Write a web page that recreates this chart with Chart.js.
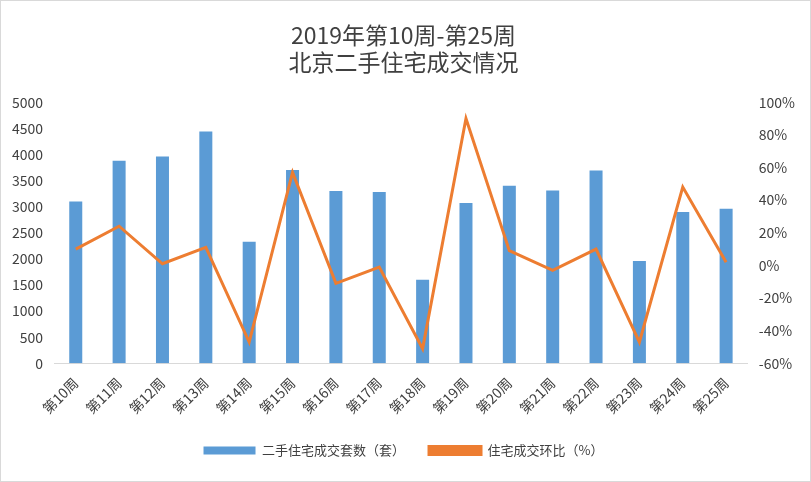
<!DOCTYPE html>
<html><head><meta charset="utf-8">
<script src="https://cdn.jsdelivr.net/npm/chart.js@4"></script>
<style>html,body{margin:0;padding:0;background:#fff}
#w{position:absolute;left:0;top:0;width:809px;height:480px;border:1px solid #d9d9d9}</style>
</head><body><div id="w"><canvas id="c"></canvas></div>
<script>
const categories=["第10周","第11周","第12周","第13周","第14周","第15周","第16周","第17周","第18周","第19周","第20周","第21周","第22周","第23周","第24周","第25周"];
const sales=[3100,3880,3960,4440,2330,3700,3300,3280,1600,3070,3400,3310,3690,1960,2900,2960];
const ratio=[10,24,1,11,-47,57,-11,-1,-51,90,9,-3,10,-47,48,2];
const F='"Noto Sans CJK SC","Noto Sans",sans-serif';
new Chart(document.getElementById('c'),{
data:{labels:categories,datasets:[
{type:'line',label:'住宅成交环比（%）',data:ratio,yAxisID:'y1',borderColor:'#ED7D31',backgroundColor:'#ED7D31',borderWidth:3,pointRadius:0,tension:0,order:0},
{type:'bar',label:'二手住宅成交套数（套）',data:sales,yAxisID:'y',backgroundColor:'#5B9BD5',categoryPercentage:0.6,barPercentage:0.5,order:1}
]},
options:{responsive:true,maintainAspectRatio:false,animation:false,
layout:{padding:{left:8,right:12,top:14,bottom:14}},
plugins:{title:{display:true,text:['2019年第10周-第25周','北京二手住宅成交情况'],font:{family:F,size:23,weight:'normal'},color:'#404040',padding:{top:6,bottom:26},lineHeight:1.6},
legend:{position:'bottom',reverse:true,labels:{font:{family:F,size:13},color:'#404040',boxWidth:52,boxHeight:8,padding:24}}},
scales:{
x:{grid:{display:false},border:{color:'#d9d9d9'},ticks:{font:{family:F,size:14},color:'#404040',maxRotation:45,minRotation:45}},
y:{min:0,max:5000,ticks:{stepSize:500,callback:v=>String(v),font:{family:F,size:14},color:'#404040'},grid:{display:false},border:{display:false}},
y1:{position:'right',min:-60,max:100,ticks:{stepSize:20,callback:v=>v+'%',font:{family:F,size:14},color:'#404040'},grid:{display:false},border:{display:false}}
}}});
</script></body></html>
